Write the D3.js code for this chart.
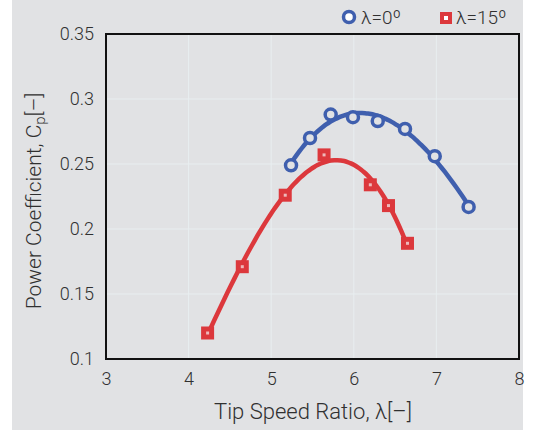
<!DOCTYPE html>
<html>
<head>
<meta charset="utf-8">
<script src="https://cdn.jsdelivr.net/npm/d3@7"></script>
<style>
  body { margin: 0; background: #fff; }
  svg { display: block; font-family: Roboto, "Noto Sans", sans-serif; font-weight: 300; }
</style>
</head>
<body>
<svg id="chart"></svg>
<script>
// lambda = 0 deg (blue circles)
const tsr0 = [5.24, 5.47, 5.72, 5.99, 6.29, 6.62, 6.98, 7.39];
const cp0 = [0.249, 0.270, 0.288, 0.286, 0.283, 0.277, 0.256, 0.217];
// lambda = 15 deg (red squares)
const tsr15 = [4.23, 4.65, 5.17, 5.64, 6.20, 6.42, 6.65];
const cp15 = [0.120, 0.171, 0.226, 0.257, 0.234, 0.218, 0.189];

const xTicks = [3, 4, 5, 6, 7, 8];
const yTicks = [0.1, 0.15, 0.2, 0.25, 0.3, 0.35];
const seriesNames = ["λ=0º", "λ=15º"];

const width = 534, height = 430;
const blue = "#3f5fae", red = "#dc383c", bg = "#e1e2e4", ink = "#303030";

const svg = d3.select("#chart").attr("width", width).attr("height", height);

svg.append("rect")
  .attr("x", 12).attr("y", 0)
  .attr("width", 511).attr("height", height)
  .attr("fill", bg);

const x = d3.scaleLinear().domain([3, 8]).range([106, 519]);
const y = d3.scaleLinear().domain([0.1, 0.35]).range([359, 34]);

// grid
const grid = svg.append("g").attr("stroke", "#e8eef0").attr("stroke-width", 1);
grid.selectAll(".gx").data(xTicks.slice(1, -1)).join("line")
  .attr("x1", d => x(d)).attr("x2", d => x(d))
  .attr("y1", y(0.1)).attr("y2", y(0.35));
grid.selectAll(".gy").data(yTicks.slice(1, -1)).join("line")
  .attr("x1", x(3)).attr("x2", x(8))
  .attr("y1", d => y(d)).attr("y2", d => y(d));

// axes (labels only, ticks hidden)
const xAxis = svg.append("g")
  .attr("transform", `translate(0,${y(0.1)})`)
  .call(d3.axisBottom(x).tickValues(xTicks).tickSize(0).tickPadding(13).tickFormat(d3.format("d")));
const yAxis = svg.append("g")
  .attr("transform", `translate(${x(3)},0)`)
  .call(d3.axisLeft(y).tickValues(yTicks).tickSize(0).tickPadding(12).tickFormat(d => String(d)));
[xAxis, yAxis].forEach(a => {
  a.select(".domain").remove();
  a.selectAll("text").attr("font-size", 18).attr("fill", ink)
    .attr("font-family", "Roboto, sans-serif").attr("font-weight", 300);
});

// cubic least-squares trendline
function polyfit(xs, ys, deg) {
  const n = deg + 1;
  const A = Array.from({ length: n }, () => new Array(n + 1).fill(0));
  xs.forEach((xv, k) => {
    for (let i = 0; i < n; i++) {
      for (let j = 0; j < n; j++) A[i][j] += Math.pow(xv, i + j);
      A[i][n] += ys[k] * Math.pow(xv, i);
    }
  });
  for (let c = 0; c < n; c++) {
    let p = c;
    for (let r = c + 1; r < n; r++) if (Math.abs(A[r][c]) > Math.abs(A[p][c])) p = r;
    [A[c], A[p]] = [A[p], A[c]];
    for (let r = 0; r < n; r++) {
      if (r === c) continue;
      const f = A[r][c] / A[c][c];
      for (let k = c; k <= n; k++) A[r][k] -= f * A[c][k];
    }
  }
  const coef = A.map((row, i) => row[n] / row[i]);
  return xv => coef.reduce((s, c, i) => s + c * Math.pow(xv, i), 0);
}

const line = d3.line().x(d => x(d[0])).y(d => y(d[1])).curve(d3.curveMonotoneX);

function trend(xs, ys, color) {
  const f = polyfit(xs, ys, 3);
  const lo = d3.min(xs), hi = d3.max(xs);
  const pts = d3.range(0, 61).map(i => {
    const xv = lo + (hi - lo) * i / 60;
    return [xv, f(xv)];
  });
  svg.append("path").datum(pts)
    .attr("d", line).attr("fill", "none")
    .attr("stroke", color).attr("stroke-width", 4.5)
    .attr("stroke-linecap", "round");
}
trend(tsr0, cp0, blue);
trend(tsr15, cp15, red);

// markers
const data0 = tsr0.map((v, i) => [v, cp0[i]]);
const data15 = tsr15.map((v, i) => [v, cp15[i]]);

svg.append("g").selectAll("circle").data(data0).join("circle")
  .attr("cx", d => x(d[0])).attr("cy", d => y(d[1])).attr("r", 5.5)
  .attr("fill", bg).attr("stroke", blue).attr("stroke-width", 3.5);

const sq = svg.append("g").selectAll("g").data(data15).join("g")
  .attr("transform", d => `translate(${x(d[0])},${y(d[1])})`);
sq.append("rect").attr("x", -6.5).attr("y", -6.5).attr("width", 13).attr("height", 13).attr("fill", red);
sq.append("rect").attr("x", -1.5).attr("y", -1.5).attr("width", 3).attr("height", 3).attr("fill", "#eeb9ba");

// plot frame
svg.append("rect")
  .attr("x", x(3)).attr("y", y(0.35))
  .attr("width", x(8) - x(3)).attr("height", y(0.1) - y(0.35))
  .attr("fill", "none").attr("stroke", "#111").attr("stroke-width", 2);

// axis titles
svg.append("text")
  .attr("x", 313).attr("y", 419)
  .attr("text-anchor", "middle").attr("font-size", 22).attr("fill", ink)
  .text("Tip Speed Ratio, λ[–]");

const yt = svg.append("text")
  .attr("transform", "translate(41,201) rotate(-90)")
  .attr("text-anchor", "middle").attr("font-size", 21).attr("fill", ink);
yt.append("tspan").text("Power Coefficient, C");
yt.append("tspan").attr("font-size", 15).attr("dy", 4).text("p");
yt.append("tspan").attr("dy", -4).text("[–]");

// legend
const lg = svg.append("g").attr("font-size", 19).attr("fill", ink);
lg.append("circle").attr("cx", 349).attr("cy", 17).attr("r", 5.5)
  .attr("fill", "#fff").attr("stroke", blue).attr("stroke-width", 3.5);
lg.append("text").attr("x", 361).attr("y", 24).text(seriesNames[0]);
lg.append("rect").attr("x", 440).attr("y", 12).attr("width", 12).attr("height", 12).attr("fill", red);
lg.append("rect").attr("x", 444).attr("y", 16).attr("width", 4).attr("height", 4).attr("fill", "#fff");
lg.append("text").attr("x", 456).attr("y", 24).text(seriesNames[1]);
</script>
</body>
</html>
